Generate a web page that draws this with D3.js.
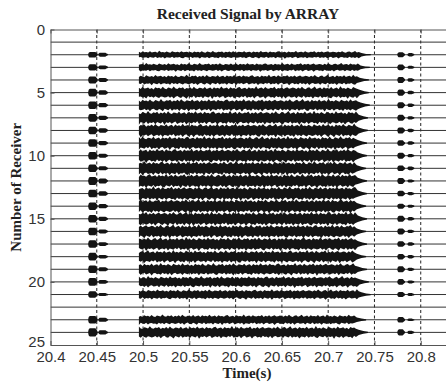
<!DOCTYPE html>
<html>
<head>
<meta charset="utf-8">
<script src="https://cdn.jsdelivr.net/npm/d3@7"></script>
<style>
  body { margin: 0; background: #fff; }
  svg { display: block; }
</style>
</head>
<body>
<div id="chart"></div>
<script>
// receivers 1..24, half height of each burst in "receiver" units (0 = no burst)
const receivers = [1, 2, 3, 4, 5, 6, 7, 8, 9, 10, 11, 12, 13, 14, 15, 16, 17, 18, 19, 20, 21, 22, 23, 24];
const mainAmp = [0, .22, .25, .3, .36, .36, .4, .4, .4, .42, .42, .42, .42, .42, .42, .4, .4, .38, .36, .34, .3, 0, .3, .36];
const mainEnd = [0, 20.733, 20.732, 20.731, 20.731, 20.732, 20.730, 20.730, 20.729, 20.729, 20.728, 20.729, 20.729, 20.728, 20.729, 20.728, 20.729, 20.728, 20.729, 20.731, 20.733, 0, 20.728, 20.730];
const blobA = [0, .22, .24, .28, .3, .3, .3, .3, .3, .3, .3, .32, .3, .3, .3, .3, .3, .3, .3, .3, .25, 0, .3, .33];
const blobB = [0, .15, .14, .16, .18, .17, .17, .18, .17, .16, .16, .2, .18, .17, .17, .16, .15, .14, .16, .15, .12, 0, .16, .16];
const blobC = [0, .2, .22, .24, .24, .24, .24, .24, .22, .24, .22, .24, .22, .2, .24, .24, .22, .22, .24, .22, .2, 0, .22, .24];
const blobD = [0, .13, .12, .14, .14, .14, .13, .14, .14, .13, .15, .12, .13, .12, .14, .13, .14, .14, .13, .12, .12, 0, .1, .13];
const blobWindows = [[20.4415, 20.4495], [20.4525, 20.4605], [20.7755, 20.7815], [20.7865, 20.7915]];
const mainStart = 20.4955;
// ragged outline of the dense burst (multiplier of mainAmp)
const texture = [1.0, .78, 1.12, .86, 1.3, .9, .75, 1.05, 1.18, .82, 1.0, 1.35, .8, .95, 1.1, .72, 1.2, .9, 1.02, .84,
  1.25, .8, .98, 1.1, .76, 1.4, .88, 1.0, .82, 1.15, .92, .74, 1.22, 1.0, .86, 1.08, .78, 1.3, .9, .96,
  1.12, .8, 1.02, .7, 1.2, .94, 1.06, .82, 1.28, .88, .76, 1.14, 1.0, .84, 1.36, .9, .8, 1.1, .96, 1.2,
  .74, 1.04, .88, 1.18, .82, 1.3, .92, .78, 1.08, 1.0, .86, 1.24, .8, .98, 1.12, .72, 1.16, .9, 1.05, .84,
  1.32, .88, .96, 1.1, .76, 1.2, .92, 1.0, .8, 1.14, 1.26, .82, .94, 1.06, .74, 1.18, .9, 1.02, .86, 1.38,
  .8, 1.0, 1.12, .78, 1.22, .9, .84, 1.08, .96, 1.28, .76, 1.04, .88, 1.16, .82, 1.0, 1.2, .86, .94, 1.1];

const xTicks = [20.4, 20.45, 20.5, 20.55, 20.6, 20.65, 20.7, 20.75, 20.8];
const xTickLabels = ["20.4", "20.45", "20.5", "20.55", "20.6", "20.65", "20.7", "20.75", "20.8"];
const yTicks = [0, 5, 10, 15, 20, 25];

const width = 446, height = 387;
const mLeft = 50.5, mTop = 29.5, mBottom = 345;

const x = d3.scaleLinear().domain([20.4, 20.83]).range([mLeft, mLeft + 0.43 * 925.6]);
const y = d3.scaleLinear().domain([0, 25]).range([mTop, mBottom]);

const svg = d3.select("#chart").append("svg")
  .attr("width", width)
  .attr("height", height);

svg.append("clipPath").attr("id", "plot")
  .append("rect")
  .attr("x", mLeft).attr("y", mTop)
  .attr("width", width - mLeft).attr("height", mBottom - mTop);

const plot = svg.append("g").attr("clip-path", "url(#plot)");

// dashed grid at the x ticks
plot.append("g")
  .attr("stroke", "#222")
  .attr("stroke-width", 1)
  .attr("stroke-dasharray", "3,2.5")
  .selectAll("line")
  .data(xTicks.slice(1))
  .join("line")
  .attr("x1", d => x(d)).attr("x2", d => x(d))
  .attr("y1", mTop).attr("y2", mBottom);

// receiver baselines
plot.append("g")
  .attr("stroke", "#333")
  .attr("stroke-width", 1)
  .selectAll("line")
  .data(receivers)
  .join("line")
  .attr("x1", mLeft).attr("x2", width)
  .attr("y1", d => y(d)).attr("y2", d => y(d));

const area = r => d3.area()
  .x(d => x(d.t))
  .y0(d => y(r + d.lo))
  .y1(d => y(r - d.hi));

const sig = plot.append("g").attr("fill", "#141414");

receivers.forEach((r, k) => {
  const a = mainAmp[k];
  if (a > 0) {
    const n = texture.length;
    const end = mainEnd[k];
    const pts = texture.map((_, i) => ({
      t: mainStart + i / (n - 1) * (end - mainStart),
      hi: a * texture[(i + r * 7) % n],
      lo: a * texture[(i + r * 13 + 40) % n]
    }));
    pts.push({ t: end + 0.003, hi: a * 0.6, lo: a * 0.6 });
    pts.push({ t: end + 0.008, hi: a * 0.3, lo: a * 0.3 });
    pts.push({ t: end + 0.013, hi: 0.05, lo: 0.05 });
    sig.append("path").attr("d", area(r)(pts));
  }
  [blobA, blobB, blobC, blobD].forEach((blob, j) => {
    const b = blob[k];
    if (b <= 0) return;
    const [t0, t1] = blobWindows[j];
    const pts = [
      { t: t0 - 0.0008, hi: 0.05, lo: 0.05 },
      { t: t0, hi: b * 0.8, lo: b * 0.8 },
      { t: t0 + 0.0012, hi: b, lo: b },
      { t: t1 - 0.0012, hi: b, lo: b },
      { t: t1, hi: b * 0.7, lo: b * 0.7 },
      { t: t1 + 0.0015, hi: 0.05, lo: 0.05 }
    ];
    sig.append("path").attr("d", area(r).curve(d3.curveMonotoneX)(pts));
  });
});

// axes
const axisColor = "#555";
svg.append("g")
  .attr("transform", `translate(0,${mBottom})`)
  .call(d3.axisBottom(x).tickValues(xTicks).tickFormat((d, i) => xTickLabels[i])
    .tickSizeInner(-4).tickSizeOuter(0).tickPadding(6.6));
svg.append("g")
  .attr("transform", `translate(0,${mTop})`)
  .call(d3.axisTop(x).tickValues(xTicks).tickFormat("").tickSizeInner(-4).tickSizeOuter(0));
const yAxis = svg.append("g")
  .attr("transform", `translate(${mLeft},0)`)
  .call(d3.axisLeft(y).tickValues(yTicks).tickSizeInner(-4).tickSizeOuter(0).tickPadding(5.5));

svg.selectAll(".domain, .tick line").attr("stroke", axisColor);
svg.selectAll(".tick text")
  .attr("font-family", "'Liberation Sans', Arial, sans-serif")
  .attr("font-size", 15)
  .attr("fill", "#333");

// "25" sits just above the x labels, as in the original
yAxis.selectAll(".tick text").filter(d => d === 25).attr("dy", "0.1em");

// titles
svg.append("text")
  .attr("x", 248).attr("y", 19)
  .attr("text-anchor", "middle")
  .attr("font-family", "'Liberation Serif', 'Times New Roman', serif")
  .attr("font-weight", "bold")
  .attr("font-size", 15.5)
  .attr("fill", "#222")
  .text("Received Signal by ARRAY");

svg.append("text")
  .attr("x", 247).attr("y", 378)
  .attr("text-anchor", "middle")
  .attr("font-family", "'Liberation Serif', 'Times New Roman', serif")
  .attr("font-weight", "bold")
  .attr("font-size", 15)
  .attr("fill", "#222")
  .text("Time(s)");

svg.append("text")
  .attr("transform", `translate(21,${(mTop + mBottom) / 2}) rotate(-90)`)
  .attr("text-anchor", "middle")
  .attr("font-family", "'Liberation Serif', 'Times New Roman', serif")
  .attr("font-weight", "bold")
  .attr("font-size", 15)
  .attr("fill", "#222")
  .text("Number of Receiver");
</script>
</body>
</html>
